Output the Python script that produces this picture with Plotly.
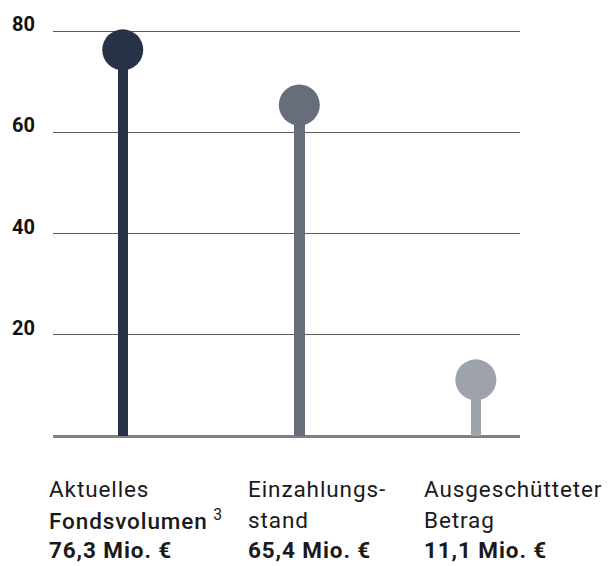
import plotly.graph_objects as go

# ---- data ----
categories = ["Aktuelles Fondsvolumen", "Einzahlungsstand", "Ausgeschütteter Betrag"]
values = [76.3, 65.4, 11.1]
label_line1 = ["Aktuelles", "Einzahlungs-", "Ausgeschütteter"]
label_line2 = ["Fondsvolumen", "stand", "Betrag"]
label_footnote = ["3", "", ""]
value_labels = ["76,3 Mio. €", "65,4 Mio. €", "11,1 Mio. €"]
colors = ["#273246", "#676d7a", "#9ea3ab"]
tick_values = [20, 40, 60, 80]
tick_labels = ["20", "40", "60", "80"]

# ---- layout constants (pixels) ----
W, H = 608, 566
Y_TOP_VAL = 82
PX_PER_UNIT = 407 / 80
M_L, M_R, M_B = 46, 88, 130
plot_h = PX_PER_UNIT * Y_TOP_VAL
M_T = H - M_B - plot_h
plot_w = W - M_L - M_R
FONT = "Roboto, 'Noto Sans', sans-serif"
LS = "letter-spacing:0.9px"

def py(Y):
    return (H - M_B - Y) / plot_h

def px(X):
    return (X - M_L) / plot_w

fig = go.Figure()

# stems
fig.add_trace(go.Bar(
    x=categories, y=values, width=0.059,
    marker=dict(color=colors, line=dict(width=0)),
    hoverinfo="skip", showlegend=False,
))
# heads
fig.add_trace(go.Scatter(
    x=categories, y=values, mode="markers",
    marker=dict(size=41, color=colors, line=dict(width=0)),
    hoverinfo="skip", showlegend=False, cliponaxis=False,
))

label_x = [41, 243, 422]
line_y = [489.5, 520.3, 550.5]
annotations = []
for i in range(len(categories)):
    if label_footnote[i]:
        l2 = (f'<span style="font-weight:500;{LS}">{label_line2[i]}</span>'
              f' <sup>{label_footnote[i]}</sup>')
    else:
        l2 = f'<span style="{LS}">{label_line2[i]}</span>'
    texts = [
        f'<span style="{LS}">{label_line1[i]}</span>',
        l2,
        f'<span style="{LS}"><b>{value_labels[i]}</b></span>',
    ]
    for t, ly in zip(texts, line_y):
        annotations.append(dict(
            text=t, xref="paper", yref="paper",
            x=px(label_x[i]), y=py(ly), xanchor="left", yanchor="middle",
            showarrow=False, align="left", borderpad=0,
            font=dict(family=FONT, size=22.5, color="#1a1a1a"),
        ))

fig.update_layout(
    width=W, height=H,
    margin=dict(l=M_L, r=M_R, t=M_T, b=M_B, pad=0),
    paper_bgcolor="white", plot_bgcolor="white",
    bargap=0,
    xaxis=dict(
        range=[-0.395, 2.25], showgrid=False, showticklabels=False,
        showline=False, zeroline=False, fixedrange=True,
    ),
    yaxis=dict(
        range=[0, Y_TOP_VAL], tickvals=tick_values, ticktext=tick_labels,
        showgrid=True, gridcolor="#5a5a5a", gridwidth=1,
        zeroline=True, zerolinecolor="#808080", zerolinewidth=2.5,
        showline=False, ticks="", ticklabelstandoff=17, ticklabelshift=-7,
        tickfont=dict(family=FONT, size=20, color="#111111", weight="bold"),
        fixedrange=True,
    ),
    annotations=annotations,
    font=dict(family=FONT),
)

fig.write_html(
    "out.html",
    config={"displayModeBar": False},
    post_script="document.body.style.margin='0';document.body.style.overflow='hidden';",
)
